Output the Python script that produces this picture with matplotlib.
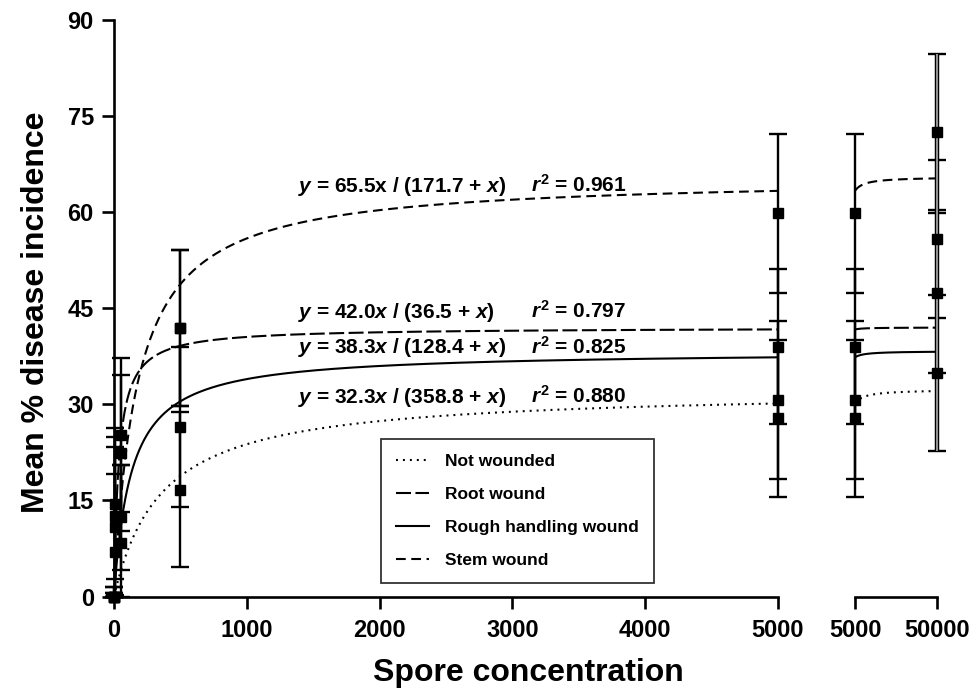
import numpy as np
import matplotlib
matplotlib.use('Agg')
import matplotlib.pyplot as plt
from matplotlib.lines import Line2D

plt.rcParams['font.family'] = ['Liberation Sans', 'DejaVu Sans']
plt.rcParams['font.weight'] = 'bold'
plt.rcParams['mathtext.fontset'] = 'custom'
plt.rcParams['mathtext.rm'] = 'Liberation Sans:bold'
plt.rcParams['mathtext.it'] = 'Liberation Sans:italic:bold'
plt.rcParams['mathtext.bf'] = 'Liberation Sans:bold'
plt.rcParams['lines.scale_dashes'] = False

# ---------------- data ----------------
concentrations = [0, 5, 50, 500, 5000, 50000]
series_names = ['Not wounded', 'Root wound', 'Rough handling wound', 'Stem wound']

not_wounded = [0, 7.0, 8.4, 16.7, 27.8, 34.9]
not_wounded_err = [0.5, 12.1, 12.2, 12.1, 12.2, 12.2]
root_wound = [0, 14.5, 25.2, 41.9, 39.0, 55.8]
root_wound_err = [1.5, 11.8, 12.0, 12.2, 12.1, 12.4]
rough_handling = [0, 10.9, 12.4, 26.5, 30.7, 47.4]
rough_handling_err = [0.5, 12.5, 8.2, 12.5, 12.3, 12.5]
stem_wound = [0, 12.6, 22.4, 41.9, 59.8, 72.5]
stem_wound_err = [1.5, 12.3, 12.2, 12.2, 12.4, 12.2]

fit_vmax = [32.3, 42.0, 38.3, 65.5]
fit_k = [358.8, 36.5, 128.4, 171.7]
fit_r2 = ['0.880', '0.797', '0.825', '0.961']
fit_eqs = [r'$\mathit{y}$ = 32.3$\mathit{x}$ / (358.8 + $\mathit{x}$)',
           r'$\mathit{y}$ = 42.0$\mathit{x}$ / (36.5 + $\mathit{x}$)',
           r'$\mathit{y}$ = 38.3$\mathit{x}$ / (128.4 + $\mathit{x}$)',
           r'$\mathit{y}$ = 65.5x / (171.7 + $\mathit{x}$)']

x_ticks_main = [0, 1000, 2000, 3000, 4000, 5000]
x_ticks_break = [5000, 50000]
y_ticks = [0, 15, 30, 45, 60, 75, 90]

means = [not_wounded, root_wound, rough_handling, stem_wound]
errs = [not_wounded_err, root_wound_err, rough_handling_err, stem_wound_err]
styles = [(0, (1.4, 3.6)), (0, (10.8, 3.2)), '-', (0, (7.0, 4.0))]

# ---------------- layout ----------------
W, H = 977, 696
fig = plt.figure(figsize=(W / 100, H / 100), dpi=100)
y0_px, y90_px = 596.5, 20
bottom = (H - y0_px) / H
height = (y0_px - y90_px) / H
ax1 = fig.add_axes([114 / W, bottom, (778 - 114) / W, height])
ax2 = fig.add_axes([855 / W, bottom, (937 - 855) / W, height])

lw_axis = 1.9
for ax in (ax1, ax2):
    ax.set_ylim(0, 90)
    ax.spines['top'].set_visible(False)
    ax.spines['right'].set_visible(False)
    ax.spines['bottom'].set_linewidth(lw_axis)
    ax.spines['left'].set_linewidth(lw_axis)
    ax.patch.set_alpha(0)
    ax.tick_params(axis='both', direction='out', length=8.5, width=lw_axis,
                   labelsize=17, pad=8)
ax1.set_xlim(0, 5000)
ax2.set_xlim(5000, 50000)
ax2.spines['left'].set_visible(False)
ax2.set_yticks([])
ax1.set_xticks(x_ticks_main)
ax1.set_xticklabels([str(v) for v in x_ticks_main])
ax2.set_xticks(x_ticks_break)
ax2.set_xticklabels([str(v) for v in x_ticks_break])
ax1.set_yticks(y_ticks)
ax1.set_yticklabels([str(v) for v in y_ticks])
ax1.tick_params(axis='y', pad=6)
for lab in ax1.get_xticklabels() + ax1.get_yticklabels() + ax2.get_xticklabels():
    lab.set_fontweight('bold')

conc = np.array(concentrations, dtype=float)
main_mask = conc <= 5000
break_mask = conc >= 5000

for m, e in zip(means, errs):
    m = np.array(m, dtype=float)
    e = np.array(e, dtype=float)
    lower = np.minimum(e, m)
    for ax, mask in ((ax1, main_mask), (ax2, break_mask)):
        ax.errorbar(conc[mask], m[mask], yerr=[lower[mask], e[mask]], fmt='none',
                    ecolor='black', elinewidth=1.7, capsize=6.5, capthick=1.7,
                    clip_on=False, zorder=3)
        ax.plot(conc[mask], m[mask], 's', ms=6.5, color='black', clip_on=False, zorder=5)

# outlined grey bar at 50000
allm = np.array(means, dtype=float)[:, -1]
alle = np.array(errs, dtype=float)[:, -1]
ax2.vlines(conc[-1], (allm - alle).min(), (allm + alle).max(), colors='black',
           linewidth=3.2, zorder=3.5, clip_on=False)
ax2.vlines(conc[-1], (allm - alle).min(), (allm + alle).max(), colors='#a0a0a0',
           linewidth=1.3, zorder=4, clip_on=False)

# fitted curves
xm = np.concatenate([np.linspace(0, 300, 600), np.linspace(300, 5000, 1000)])
xb = np.linspace(5000, 50000, 800)
for vmax, k, ls in zip(fit_vmax, fit_k, styles):
    ax1.plot(xm, vmax * xm / (k + xm), color='black', lw=1.5, ls=ls, zorder=2)
    ax2.plot(xb, vmax * xb / (k + xb), color='black', lw=1.5, ls=ls, zorder=2)

# equations (order: not wounded, root, rough, stem)
eq_y_px = [402.7, 318.3, 353.3, 191.7]
for eq, r2, ypx in zip(fit_eqs, fit_r2, eq_y_px):
    yf = (y0_px - ypx) / (y0_px - y90_px)
    ax1.text((298 - 114) / 664, yf, eq, transform=ax1.transAxes, fontsize=15,
             fontweight='bold', va='baseline', ha='left')
    ax1.text((531 - 114) / 664, yf, r'$\mathit{r}^\mathrm{2}$ = ' + r2,
             transform=ax1.transAxes, fontsize=15, fontweight='bold',
             va='baseline', ha='left')

# legend
handles = [Line2D([], [], color='black', lw=1.5, ls=ls) for ls in styles]
leg = fig.legend(handles, series_names, loc='upper left',
                 bbox_to_anchor=(381 / W, (H - 439) / H), frameon=True,
                 fancybox=False, edgecolor='black',
                 prop={'weight': 'bold', 'size': 12.5},
                 handlelength=1.9, handletextpad=0.95, labelspacing=1.03,
                 borderpad=0.85, borderaxespad=0)
leg.get_frame().set_linewidth(1.3)

# axis labels
fig.text(36 / W, (H - 312) / H, 'Mean % disease incidence', rotation=90,
         ha='center', va='center', fontsize=23, fontweight='bold')
fig.text(528 / W, (H - 673) / H, 'Spore concentration', ha='center',
         va='center', fontsize=23, fontweight='bold')

fig.savefig('out.png', dpi=100)
